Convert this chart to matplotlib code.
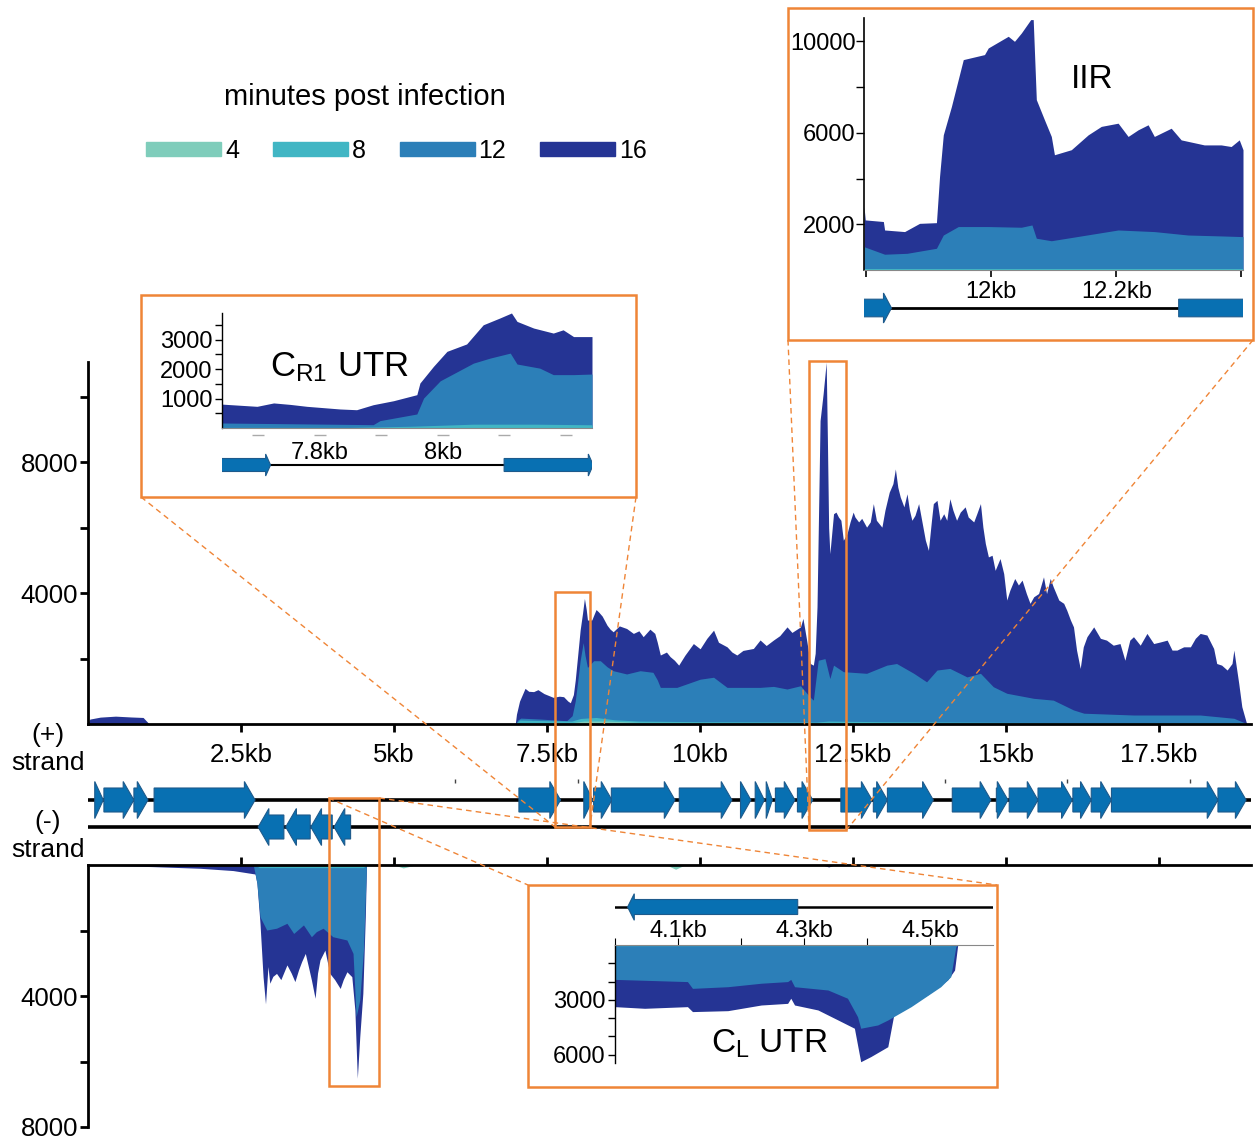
import matplotlib
matplotlib.use("Agg")
from matplotlib import pyplot as plt
from matplotlib.patches import Polygon, Rectangle, Patch
from matplotlib.lines import Line2D

W, H = 1259, 1139

plt.rcParams["font.family"] = ["Liberation Sans", "DejaVu Sans"]
plt.rcParams["mathtext.fontset"] = "custom"
plt.rcParams["mathtext.rm"] = "Liberation Sans"

# minutes post infection and their colours
times = ["4", "8", "12", "16"]
colors = ["#7fcdbb", "#41b6c4", "#2c7fb8", "#253494"]
gene_color = "#0870b2"
gene_edge = "#1d5a8c"
orange = "#ef8537"

# genes in kb
plus_genes = [(0.11, 0.25), (0.26, 0.75), (0.75, 0.98), (1.08, 2.73), (7.04, 7.72),
              (8.10, 8.245), (8.26, 8.56), (8.55, 9.59), (9.66, 10.52), (10.66, 10.83),
              (10.90, 11.05), (11.08, 11.18), (11.23, 11.55), (11.59, 11.84), (12.30, 12.81),
              (12.83, 13.06), (13.06, 13.81), (14.12, 14.75), (14.84, 15.03), (15.05, 15.52),
              (15.52, 16.08), (16.09, 16.39), (16.39, 16.72), (16.72, 18.46), (18.46, 18.92)]
minus_genes = [(2.78, 3.20), (3.23, 3.63), (3.64, 3.99), (4.02, 4.29)]
track_marks = [6, 8, 14, 16, 18]

kb_ticks = [2.5, 5, 7.5, 10, 12.5, 15, 17.5]
kb_labels = ["2.5kb", "5kb", "7.5kb", "10kb", "12.5kb", "15kb", "17.5kb"]

# whole genome coverage, (+) strand: (kb, reads)
plus_16 = [(0.0, 0), (0.03, 150), (0.2, 210), (0.45, 240), (0.7, 215), (0.9, 200), (0.97, 60),
           (1.0, 0), (6.98, 0), (7.0, 300), (7.05, 700), (7.14, 1090), (7.2, 1000), (7.28, 990),
           (7.35, 1050), (7.45, 930), (7.6, 815), (7.7, 850), (7.77, 835), (7.84, 700), (7.88, 650),
           (7.93, 900), (7.96, 1340), (8.0, 2100), (8.04, 2870), (8.08, 3400), (8.11, 3840),
           (8.14, 3500), (8.16, 3180), (8.23, 3180), (8.30, 3500), (8.34, 3430), (8.40, 3300),
           (8.48, 3020), (8.53, 2900), (8.58, 2820), (8.68, 3000), (8.80, 2920), (8.91, 2770),
           (9.00, 2850), (9.07, 2670), (9.18, 2900), (9.26, 2770), (9.30, 2500), (9.35, 2110),
           (9.45, 2200), (9.51, 2060), (9.58, 1950), (9.65, 1800), (9.75, 2100), (9.89, 2460),
           (10.00, 2300), (10.11, 2620), (10.22, 2870), (10.30, 2500), (10.44, 2360), (10.52, 2200),
           (10.60, 2110), (10.70, 2250), (10.87, 2310), (10.98, 2570), (11.08, 2400), (11.20, 2570),
           (11.30, 2700), (11.42, 2970), (11.50, 2800), (11.64, 2970), (11.68, 3230), (11.74, 2570),
           (11.80, 1850), (11.85, 1800), (11.88, 2160), (11.91, 3580), (11.94, 7000), (11.96, 9280),
           (12.01, 10100), (12.06, 11060), (12.08, 8670), (12.10, 6000), (12.12, 5210), (12.18, 6430),
           (12.22, 6480), (12.26, 6330), (12.30, 6230), (12.34, 5620), (12.40, 5820), (12.45, 6180),
           (12.50, 6480), (12.53, 6330), (12.59, 6180), (12.64, 6290), (12.72, 6020), (12.78, 6180),
           (12.83, 6740), (12.88, 6230), (12.97, 6020), (13.02, 6540), (13.09, 7090), (13.15, 7350),
           (13.19, 7800), (13.23, 7240), (13.27, 6940), (13.33, 6640), (13.38, 7040), (13.42, 6540),
           (13.46, 6230), (13.51, 6380), (13.57, 6740), (13.62, 6230), (13.68, 5620), (13.73, 5310),
           (13.78, 6230), (13.81, 6740), (13.87, 6840), (13.92, 6230), (13.98, 6430), (14.03, 6230),
           (14.08, 6890), (14.13, 6540), (14.19, 6230), (14.25, 6480), (14.33, 6640), (14.38, 6330),
           (14.47, 6180), (14.52, 6430), (14.58, 6740), (14.62, 6020), (14.66, 5520), (14.71, 5110),
           (14.77, 5160), (14.82, 4700), (14.90, 5060), (14.96, 4600), (15.01, 3790), (15.06, 4090),
           (15.14, 4450), (15.20, 4250), (15.26, 4400), (15.33, 3990), (15.39, 3690), (15.45, 3890),
           (15.53, 3990), (15.61, 4500), (15.66, 3990), (15.72, 4450), (15.77, 4190), (15.86, 3790),
           (15.94, 3690), (15.99, 3480), (16.05, 3180), (16.10, 2970), (16.15, 2260), (16.21, 1700),
           (16.26, 2360), (16.32, 2670), (16.43, 2970), (16.54, 2620), (16.64, 2565), (16.75, 2410),
           (16.86, 2460), (16.94, 1950), (17.02, 2565), (17.08, 2670), (17.19, 2410), (17.30, 2770),
           (17.41, 2460), (17.52, 2510), (17.63, 2565), (17.71, 2260), (17.79, 2260), (17.90, 2360),
           (18.01, 2360), (18.09, 2620), (18.17, 2770), (18.28, 2720), (18.39, 2310), (18.44, 1850),
           (18.52, 1800), (18.61, 1650), (18.69, 1850), (18.72, 2260), (18.76, 1750), (18.80, 1240),
           (18.85, 530), (18.93, 0), (19.0, 0)]
plus_12 = [(0.0, 0), (6.98, 0), (7.02, 120), (7.07, 180), (7.4, 150), (7.82, 100), (7.91, 255),
           (7.96, 700), (8.0, 1300), (8.04, 1935), (8.09, 2490), (8.12, 2100), (8.16, 1730),
           (8.26, 1935), (8.37, 1935), (8.48, 1750), (8.58, 1630), (8.80, 1530), (9.02, 1630),
           (9.23, 1580), (9.30, 1350), (9.35, 1120), (9.62, 1120), (10.0, 1370), (10.22, 1430),
           (10.44, 1120), (10.66, 1120), (10.98, 1120), (11.2, 1150), (11.42, 1070), (11.64, 1170),
           (11.79, 835), (11.85, 730), (11.93, 1950), (12.04, 2000), (12.12, 1390), (12.18, 1800),
           (12.34, 1600), (12.72, 1550), (13.05, 1800), (13.21, 1850), (13.49, 1550), (13.70, 1290),
           (13.87, 1650), (14.08, 1700), (14.36, 1440), (14.58, 1550), (14.79, 1140), (15.01, 940),
           (15.45, 785), (15.77, 730), (16.10, 430), (16.27, 330), (17.08, 275), (18.17, 275),
           (18.72, 175), (18.88, 50), (18.93, 0), (19.0, 0)]
plus_8 = [(0.0, 0), (6.98, 0), (7.05, 120), (7.5, 100), (7.9, 90), (8.05, 170), (8.3, 200),
          (8.6, 130), (9.0, 90), (10.0, 70), (11.9, 60), (12.1, 90), (13.0, 70), (15.0, 50),
          (18.9, 30), (18.93, 0), (19.0, 0)]
plus_4 = [(0.0, 0), (6.98, 0), (7.1, 40), (7.9, 40), (8.1, 90), (8.5, 90), (9.0, 50), (12.0, 40),
          (15.0, 30), (18.9, 20), (18.93, 0), (19.0, 0)]

# whole genome coverage, (-) strand
minus_16 = [(0.0, 0), (0.5, 20), (1.07, 50), (1.83, 100), (2.37, 170), (2.73, 275), (2.76, 560),
            (2.81, 1780), (2.86, 3410), (2.90, 4240), (2.94, 3100), (2.97, 3610), (3.02, 3400),
            (3.08, 3310), (3.15, 3500), (3.25, 3050), (3.32, 3300), (3.38, 3560), (3.44, 3200),
            (3.49, 2950), (3.55, 2700), (3.60, 3100), (3.65, 3510), (3.71, 4070), (3.75, 3300),
            (3.79, 2900), (3.87, 2600), (3.95, 3310), (4.03, 3500), (4.12, 3770), (4.17, 3500),
            (4.23, 3260), (4.31, 3410), (4.36, 4430), (4.40, 6510), (4.44, 5240), (4.49, 3920),
            (4.53, 1580), (4.55, 0), (12.0, 0), (12.1, 60), (12.2, 0), (19.0, 0)]
minus_12 = [(0.0, 0), (2.70, 0), (2.73, 270), (2.76, 560), (2.81, 1580), (2.92, 1985), (3.08, 1930),
            (3.25, 1780), (3.36, 2090), (3.52, 1830), (3.65, 2190), (3.73, 2035), (3.84, 1930),
            (4.00, 2190), (4.23, 2290), (4.33, 2700), (4.38, 4630), (4.44, 4120), (4.50, 2600),
            (4.55, 0), (19.0, 0)]
minus_8 = [(0.0, 0), (2.73, 0), (2.8, 80), (4.5, 80), (4.55, 0), (19.0, 0)]
minus_4 = [(0.0, 0), (5.0, 0), (5.15, 90), (5.35, 0), (9.45, 0), (9.6, 130), (9.75, 0), (19.0, 0)]

# C_R1 UTR close-up
cr1_16 = [(7.641, 810), (7.698, 735), (7.725, 850), (7.752, 800), (7.779, 735), (7.833, 645),
          (7.860, 620), (7.887, 790), (7.920, 925), (7.958, 1130), (7.963, 1525), (7.985, 2090),
          (8.007, 2600), (8.039, 2850), (8.066, 3500), (8.093, 3730), (8.112, 3900), (8.121, 3615),
          (8.148, 3390), (8.180, 3220), (8.196, 3330), (8.213, 3100), (8.243, 3100)]
cr1_12 = [(7.641, 170), (7.887, 113), (7.898, 250), (7.958, 475), (7.969, 1015), (7.996, 1600),
          (8.023, 1900), (8.050, 2200), (8.077, 2370), (8.110, 2540), (8.121, 2170), (8.158, 2030),
          (8.180, 1810), (8.213, 1810), (8.243, 1830)]
cr1_8 = [(7.641, 20), (7.85, 20), (7.95, 60), (8.05, 130), (8.15, 130), (8.243, 110)]
cr1_4 = [(7.641, 10), (8.243, 10)]

# IIR close-up
iir_16 = [(11.796, 2770), (11.798, 2190), (11.827, 2120), (11.829, 1750), (11.861, 1680),
          (11.885, 2040), (11.912, 2070), (11.917, 4090), (11.923, 5910), (11.936, 7150),
          (11.955, 9200), (11.989, 9420), (11.995, 9710), (12.027, 10220), (12.037, 10000),
          (12.048, 10365), (12.063, 10950), (12.067, 10950), (12.072, 7450), (12.085, 6570),
          (12.096, 5840), (12.101, 5040), (12.128, 5260), (12.155, 5910), (12.176, 6280),
          (12.203, 6420), (12.219, 5840), (12.235, 6130), (12.251, 6350), (12.261, 5840),
          (12.288, 6200), (12.304, 5690), (12.341, 5470), (12.368, 5470), (12.384, 5400),
          (12.397, 5690), (12.403, 5260)]
iir_12 = [(11.796, 1020), (11.829, 690), (11.865, 730), (11.912, 950), (11.923, 1530),
          (11.947, 1900), (11.995, 1900), (12.048, 1870), (12.065, 1970), (12.072, 1390),
          (12.096, 1280), (12.128, 1420), (12.203, 1750), (12.261, 1680), (12.315, 1530),
          (12.368, 1490), (12.403, 1460)]
iir_8 = [(11.796, 60), (12.403, 60)]
iir_4 = [(11.796, 20), (12.403, 20)]

# C_L UTR close-up, (-) strand
cl_16 = [(4.000, 3370), (4.047, 3460), (4.115, 3370), (4.123, 3640), (4.179, 3590), (4.232, 3280),
         (4.274, 3190), (4.279, 2910), (4.285, 3280), (4.322, 3550), (4.354, 4100), (4.380, 4550),
         (4.390, 6380), (4.406, 6100), (4.433, 5560), (4.443, 3730), (4.496, 2730), (4.528, 1910),
         (4.539, 1370), (4.544, 0), (4.6, 0)]
cl_12 = [(4.000, 1880), (4.115, 2000), (4.123, 2370), (4.179, 2280), (4.232, 2090), (4.274, 2000),
         (4.279, 1880), (4.285, 2280), (4.338, 2460), (4.369, 2910), (4.385, 3920), (4.390, 4550),
         (4.417, 4370), (4.433, 4100), (4.470, 3370), (4.517, 2280), (4.533, 1730), (4.541, 90),
         (4.544, 0), (4.6, 0)]
cl_8 = [(4.0, 40), (4.53, 40), (4.544, 0), (4.6, 0)]
cl_4 = [(4.0, 10), (4.53, 10), (4.544, 0), (4.6, 0)]


fig = plt.figure(figsize=(W / 100, H / 100), dpi=100)


def px_axes(l, t, r, b):
    return fig.add_axes([l / W, 1 - b / H, (r - l) / W, (b - t) / H])


def fill_tracks(ax, series):
    # longest time point in the back
    for data, c in reversed(list(zip(series, colors))):
        ax.fill_between([p[0] for p in data], 0, [p[1] for p in data], color=c, lw=0)


def draw_gene(ax, start, end, strand, yc, body, head, head_len):
    hl = min(head_len, end - start)
    if strand > 0:
        neck = end - hl
        pts = [(start, yc - body), (neck, yc - body), (neck, yc - head), (end, yc),
               (neck, yc + head), (neck, yc + body), (start, yc + body)]
    else:
        neck = start + hl
        pts = [(end, yc - body), (neck, yc - body), (neck, yc - head), (start, yc),
               (neck, yc + head), (neck, yc + body), (end, yc + body)]
    ax.add_patch(Polygon(pts, closed=True, fc=gene_color, ec=gene_edge, lw=0.8))


def gene_track(l, t, r, b, xlim, line_y, body, head, head_len, lw):
    ax = px_axes(l, t, r, b)
    ax.set_xlim(*xlim)
    ax.set_ylim(b - t, 0)
    ax.axis("off")
    ax.axhline(line_y, color="black", lw=lw, zorder=1)
    for s, e in plus_genes:
        draw_gene(ax, s, e, 1, line_y, body, head, head_len)
    return ax


def fpx(x, y):
    return x / W, 1 - y / H


# ---- main (+) strand
ax = px_axes(88, 362, 1251, 724)
fill_tracks(ax, [plus_4, plus_8, plus_12, plus_16])
ax.set_xlim(0, 19.0)
ax.set_ylim(0, 11070)
for s in ["top", "right"]:
    ax.spines[s].set_visible(False)
for s in ["left", "bottom"]:
    ax.spines[s].set_linewidth(2)
ax.set_yticks([4000, 8000], labels=["4000", "8000"])
ax.set_yticks([2000, 6000, 10000], minor=True)
ax.set_xticks(kb_ticks, labels=kb_labels)
ax.tick_params(which="both", width=2, length=6, labelsize=18.5, pad=1)
ax.tick_params(axis="x", pad=8)

# ---- main (-) strand
axm = px_axes(88, 865, 1251, 1127)
fill_tracks(axm, [minus_4, minus_8, minus_12, minus_16])
axm.set_xlim(0, 19.0)
axm.set_ylim(8000, 0)
for s in ["bottom", "right"]:
    axm.spines[s].set_visible(False)
for s in ["left", "top"]:
    axm.spines[s].set_linewidth(2)
axm.xaxis.tick_top()
axm.set_xticks(kb_ticks, labels=[])
axm.set_yticks([4000, 8000], labels=["4000", "8000"])
axm.set_yticks([2000, 6000], minor=True)
axm.tick_params(which="both", width=2, length=6, labelsize=18.5, pad=1)

# ---- gene map
axg = px_axes(88, 776, 1251, 850)
axg.set_xlim(0, 19.0)
axg.set_ylim(74, 0)
axg.axis("off")
axg.axhline(24, color="black", lw=2.6, zorder=1)
axg.axhline(51, color="black", lw=2.6, zorder=1)
for s, e in plus_genes:
    draw_gene(axg, s, e, 1, 24, 12, 18.5, 0.175)
for s, e in minus_genes:
    draw_gene(axg, s, e, -1, 51, 12, 18.5, 0.175)
axg.vlines(track_marks, 3, 7, color="#444444", lw=1)

fig.text(*fpx(48, 749), "(+)\nstrand", ha="center", va="center", fontsize=19, linespacing=1.2)
fig.text(*fpx(48, 836), "(-)\nstrand", ha="center", va="center", fontsize=19, linespacing=1.2)

# ---- legend
fig.text(*fpx(365, 97), "minutes post infection", ha="center", va="center", fontsize=21)
handles = [Patch(facecolor=c, edgecolor=c) for c in colors]
fig.legend(handles, times, loc="center left", bbox_to_anchor=fpx(146, 151), ncol=4,
           frameon=False, fontsize=18, handlelength=3.0, handleheight=0.48,
           handletextpad=0.16, columnspacing=1.35, borderpad=0, borderaxespad=0)

# ---- C_R1 UTR inset
axc = px_axes(222, 313, 592, 428)
fill_tracks(axc, [cr1_4, cr1_8, cr1_12, cr1_16])
axc.set_xlim(7.641, 8.243)
axc.set_ylim(0, 3900)
for s in ["top", "right"]:
    axc.spines[s].set_visible(False)
axc.spines["left"].set_linewidth(1)
axc.spines["bottom"].set_linewidth(0.8)
axc.spines["bottom"].set_color("#888888")
axc.set_yticks([1000, 2000, 3000], labels=["1000", "2000", "3000"])
axc.set_yticks([500, 1500, 2500, 3500], minor=True)
axc.tick_params(axis="y", which="both", width=1, length=5, labelsize=17, pad=2)
axc.set_xticks([7.8, 8.0], labels=["7.8kb", "8kb"])
axc.tick_params(axis="x", length=0, labelsize=17, pad=10)
axc.plot([7.7, 7.8, 7.9, 8.0, 8.1, 8.2], [-240] * 6, ls="none", marker="_", ms=8,
         mew=1, color="#aaaaaa", clip_on=False)
gene_track(222, 450, 592, 480, (7.641, 8.243), 15, 6.5, 11, 0.008, 1.5)
fig.text(*fpx(270, 376), r"$\mathrm{C_{R1}}$ UTR", fontsize=25, va="baseline")

# ---- IIR inset
axi = px_axes(864, 18, 1243, 270)
fill_tracks(axi, [iir_4, iir_8, iir_12, iir_16])
axi.set_xlim(11.796, 12.403)
axi.set_ylim(0, 11020)
for s in ["top", "right"]:
    axi.spines[s].set_visible(False)
axi.spines["left"].set_linewidth(1.2)
axi.spines["bottom"].set_linewidth(0.8)
axi.spines["bottom"].set_color("#888888")
axi.set_yticks([2000, 6000, 10000], labels=["2000", "6000", "10000"])
axi.set_yticks([4000, 8000], minor=True)
axi.tick_params(axis="y", which="both", width=1, length=6, labelsize=17, pad=0)
axi.set_xticks([11.8, 12.0, 12.2, 12.4], labels=["", "12kb", "12.2kb", ""])
axi.tick_params(axis="x", width=1.2, length=5, labelsize=17, pad=3)
gene_track(864, 290, 1243, 326, (11.796, 12.403), 18, 8.8, 15, 0.0128, 2)
fig.text(*fpx(1071, 88), "IIR", fontsize=24, va="baseline")

# ---- C_L UTR inset
axl = px_axes(615, 945, 993, 1063)
fill_tracks(axl, [cl_4, cl_8, cl_12, cl_16])
axl.set_xlim(4.0, 4.6)
axl.set_ylim(6450, 0)
for s in ["bottom", "right"]:
    axl.spines[s].set_visible(False)
axl.spines["left"].set_linewidth(1)
axl.spines["top"].set_linewidth(0.8)
axl.spines["top"].set_color("#888888")
axl.xaxis.tick_top()
axl.set_xticks([4.0, 4.1, 4.2, 4.3, 4.4, 4.5], labels=["", "4.1kb", "", "4.3kb", "", "4.5kb"])
axl.tick_params(axis="x", width=0.8, length=5, labelsize=17, pad=-3)
axl.set_yticks([3000, 6000], labels=["3000", "6000"])
axl.set_yticks([1000, 2000, 4000, 5000], minor=True)
axl.tick_params(axis="y", which="both", width=1, length=5, labelsize=17, pad=2)
cl_track = px_axes(615, 890, 993, 925)
cl_track.set_xlim(4.0, 4.6)
cl_track.set_ylim(35, 0)
cl_track.axis("off")
cl_track.axhline(17, color="black", lw=1.8, zorder=1)
for s, e in minus_genes:
    draw_gene(cl_track, s, e, -1, 17, 7.5, 13.3, 0.0106)
fig.text(*fpx(711, 1053), r"$\mathrm{C_{L}}$ UTR", fontsize=24, va="baseline")

# ---- orange boxes and connectors
inset_frames = [(141, 295, 636, 497), (788, 8, 1253, 340), (528, 885, 997, 1087)]
for l, t, r, b in inset_frames:
    x0, y0 = fpx(l, b)
    fig.add_artist(Rectangle((x0, y0), (r - l) / W, (b - t) / H, fill=False, ec=orange,
                             lw=1.8, transform=fig.transFigure))

zoom_boxes = [(7.63, 8.20, 592, 827), (11.78, 12.39, 361, 830), (3.93, 4.76, 798, 1086)]
box_px = []
for k0, k1, t, b in zoom_boxes:
    l = ax.transData.transform((k0, 0))[0]
    r = ax.transData.transform((k1, 0))[0]
    box_px.append((l, t, r, b))
    x0, y0 = fpx(l, b)
    fig.add_artist(Rectangle((x0, y0), (r - l) / W, (b - t) / H, fill=False, ec=orange,
                             lw=1.8, transform=fig.transFigure))

(cl0, ct0, cr0, cb0), (il, it, ir, ib), (ll, lt, lr, lb) = box_px
connectors = [((141, 497), (cl0, cb0)), ((636, 497), (cr0, cb0)),
              ((788, 340), (il, ib)), ((1253, 340), (ir, ib)),
              ((ll, lt), (528, 885)), ((lr, lt), (997, 885))]
for p, q in connectors:
    (x0, y0), (x1, y1) = fpx(*p), fpx(*q)
    fig.add_artist(Line2D([x0, x1], [y0, y1], color=orange, lw=1, ls=(0, (4, 3)),
                          transform=fig.transFigure))

fig.savefig("out.png", dpi=100)
